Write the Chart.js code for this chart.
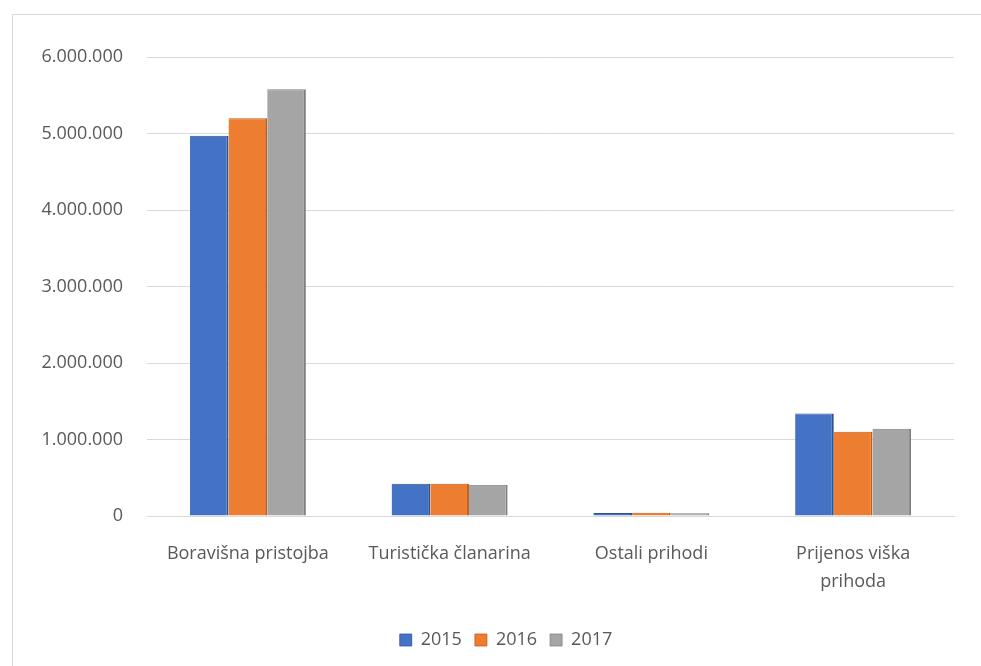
<!DOCTYPE html>
<html>
<head>
<meta charset="utf-8">
<script src="https://cdn.jsdelivr.net/npm/chart.js@4"></script>
<style>
  html, body { margin: 0; padding: 0; background: #fff; overflow: hidden; }
  #box { position: absolute; left: 12px; top: 14px; width: 975px; height: 664px; border: 1px solid #d9d9d9; box-sizing: border-box; }
</style>
</head>
<body>
<div id="box"><canvas id="c"></canvas></div>
<script>
// categories and series
const categories = ["Boravišna pristojba", "Turistička članarina", "Ostali prihodi", ["Prijenos viška", "prihoda"]];
const years = ["2015", "2016", "2017"];
const v2015 = [4970000, 420000, 40000, 1340000];
const v2016 = [5200000, 420000, 42000, 1100000];
const v2017 = [5580000, 410000, 36000, 1140000];
const yTicks = [0, 1000000, 2000000, 3000000, 4000000, 5000000, 6000000];

const txt = "#595959";
const fnt = { family: "'Open Sans', sans-serif", size: 18 };

function fmt(n) {
  return String(n).replace(/\B(?=(\d{3})+(?!\d))/g, ".");
}

const mk = (label, data, color, edge) => ({
  label, data, backgroundColor: color, borderColor: edge,
  borderWidth: { right: 2, top: 1 }, borderSkipped: "bottom",
  barPercentage: 1.0, categoryPercentage: 0.575
});

new Chart(document.getElementById("c"), {
  type: "bar",
  data: {
    labels: categories,
    datasets: [
      mk(years[0], v2015, "#4472c4", "#2f528f"),
      mk(years[1], v2016, "#ed7d31", "#c55a11"),
      mk(years[2], v2017, "#a5a5a5", "#7f7f7f")
    ]
  },
  options: {
    responsive: true, maintainAspectRatio: false, animation: false,
    layout: { padding: { top: 42, right: 0, left: 13, bottom: 18 } },
    plugins: {
      tooltip: { enabled: false },
      legend: {
        position: "bottom",
        labels: { color: txt, font: fnt, boxWidth: 12, boxHeight: 12, padding: 13 }
      }
    },
    scales: {
      x: {
        afterFit: a => { a.height = 102; },
        grid: { display: false },
        border: { color: "#d9d9d9" },
        ticks: { color: txt, font: { ...fnt, lineHeight: 1.6 }, maxRotation: 0, padding: 15 }
      },
      y: {
        min: 0, max: 6000000,
        afterFit: a => { a.width = 121; },
        afterBuildTicks: a => { a.ticks = yTicks.map(v => ({ value: v })); },
        grid: { color: "#d9d9d9", drawTicks: false },
        border: { display: false },
        ticks: { color: txt, font: fnt, padding: 24, callback: v => fmt(v) }
      },
      // empty right margin
      yR: {
        type: "linear", position: "right",
        afterFit: a => { a.width = 32; },
        grid: { display: false }, border: { display: false },
        ticks: { display: false }
      }
    }
  }
});
</script>
</body>
</html>
